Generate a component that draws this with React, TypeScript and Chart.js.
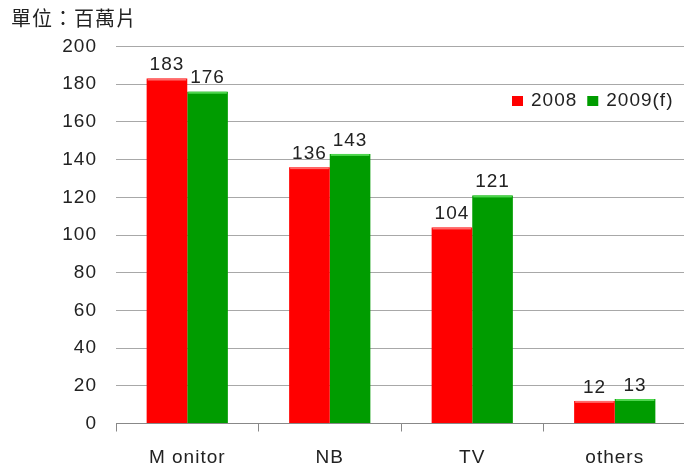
import React, { useEffect, useRef } from "react";
import { Chart, registerables } from "chart.js";

Chart.register(...registerables);

const categories = ["M onitor", "NB", "TV", "others"];
const series2008 = [183, 136, 104, 12];
const series2009 = [176, 143, 121, 13];
const seriesLabels = ["2008", "2009(f)"];
const seriesColors = ["#ff0000", "#009c00"];
const highlightColors = ["#ff6a6a", "#4fd64f"];
const unitTitle = "單位：百萬片";
const yMin = 0;
const yMax = 200;
const yStep = 20;

const NUM_FONT = "'Liberation Sans', Arial, sans-serif";

const decorPlugin = {
  id: "decor",
  beforeDraw(chart: any) {
    chart.ctx.letterSpacing = "1px";
  },
  afterDatasetsDraw(chart: any) {
    const ctx = chart.ctx;
    ctx.save();
    ctx.letterSpacing = "1px";
    chart.data.datasets.forEach((ds: any, di: number) => {
      const meta = chart.getDatasetMeta(di);
      meta.data.forEach((bar: any, i: number) => {
        const left = bar.x - bar.width / 2;
        ctx.fillStyle = highlightColors[di];
        ctx.fillRect(left + 1, bar.y, bar.width - 2, 2);
        ctx.fillStyle = "#222";
        ctx.font = `19px ${NUM_FONT}`;
        ctx.textAlign = "center";
        ctx.textBaseline = "bottom";
        ctx.fillText(String(ds.data[i]), bar.x, bar.y - 4);
      });
    });
    ctx.restore();
  },
  afterDraw(chart: any) {
    const ctx = chart.ctx;
    ctx.save();
    ctx.letterSpacing = "1px";
    ctx.fillStyle = "#222";
    ctx.font = "20px 'Noto Sans CJK TC', sans-serif";
    ctx.textAlign = "left";
    ctx.textBaseline = "middle";
    ctx.fillText(unitTitle, 11, 18);
    ctx.font = `19px ${NUM_FONT}`;
    ctx.textBaseline = "middle";
    const ly = 101;
    let x = 512;
    chart.data.datasets.forEach((ds: any, di: number) => {
      ctx.fillStyle = seriesColors[di];
      ctx.fillRect(x, ly - 5, 11, 10);
      x += 19;
      ctx.fillStyle = "#222";
      ctx.fillText(ds.label, x, ly);
      x += ctx.measureText(ds.label).width + 10;
    });
    ctx.restore();
  },
};

export default function App() {
  const ref = useRef<HTMLCanvasElement>(null);
  useEffect(() => {
    const chart = new Chart(ref.current as HTMLCanvasElement, {
      type: "bar",
      data: {
        labels: categories,
        datasets: [
          {
            label: seriesLabels[0],
            data: series2008,
            backgroundColor: seriesColors[0],
            categoryPercentage: 0.57,
            barPercentage: 1,
          },
          {
            label: seriesLabels[1],
            data: series2009,
            backgroundColor: seriesColors[1],
            categoryPercentage: 0.57,
            barPercentage: 1,
          },
        ],
      },
      options: {
        responsive: false,
        animation: false,
        layout: { padding: { top: 46.5, right: 4, left: 0, bottom: 0 } },
        plugins: {
          legend: { display: false },
          tooltip: { enabled: false },
        },
        scales: {
          y: {
            min: yMin,
            max: yMax,
            ticks: {
              stepSize: yStep,
              color: "#222",
              font: { family: NUM_FONT, size: 19 },
              padding: 19,
            },
            grid: { color: "#a8a8a8", drawTicks: false },
            border: { display: false },
            afterFit(scale: any) {
              scale.width = 116;
            },
          },
          x: {
            ticks: {
              color: "#222",
              font: { family: NUM_FONT, size: 19 },
              padding: 15,
            },
            grid: {
              offset: true,
              drawOnChartArea: false,
              tickLength: 8,
              color: "#888",
            },
            border: { color: "#888" },
            afterFit(scale: any) {
              scale.height = 43.5;
            },
          },
        },
      },
      plugins: [decorPlugin],
    });
    return () => chart.destroy();
  }, []);
  return (
    <div
      style={{
        position: "fixed",
        left: 0,
        top: 0,
        width: 684,
        height: 467,
        overflow: "hidden",
        background: "#fff",
      }}
    >
      <canvas ref={ref} width={690} height={467} style={{ display: "block" }} />
    </div>
  );
}
